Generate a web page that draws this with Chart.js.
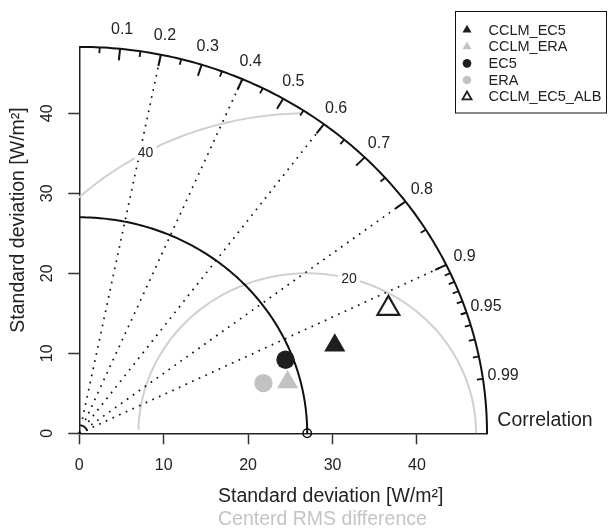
<!DOCTYPE html>
<html><head><meta charset="utf-8">
<script src="https://cdn.jsdelivr.net/npm/chart.js@4/dist/chart.umd.min.js"></script>
<style>html,body{margin:0;padding:0;background:#fff;} canvas{display:block}</style>
</head><body>
<canvas id="c" width="609" height="531"></canvas>
<script>
// ---- data ----
const models = ['CCLM_EC5', 'CCLM_ERA', 'EC5', 'ERA', 'CCLM_EC5_ALB'];
const stdDev = [32.2, 25.5, 26.1, 22.7, 39.8];
const correlation = [0.940, 0.968, 0.936, 0.961, 0.920];
const refStdDev = 27.0;
const maxStdDev = 48.3;
const xTicks = [0, 10, 20, 30, 40];
const yTicks = [0, 10, 20, 30, 40];
const corrLabelValues = [0.1, 0.2, 0.3, 0.4, 0.5, 0.6, 0.7, 0.8, 0.9, 0.95, 0.99];
const corrLabels = ['0.1', '0.2', '0.3', '0.4', '0.5', '0.6', '0.7', '0.8', '0.9', '0.95', '0.99'];
const corrMajor = [0.1, 0.2, 0.3, 0.4, 0.5, 0.6, 0.7, 0.8, 0.9];
const corrMedium = [0.05, 0.15, 0.25, 0.35, 0.45, 0.55, 0.65, 0.75, 0.85, 0.95];
const corrMinor = [0.91, 0.92, 0.93, 0.94, 0.95, 0.96, 0.97, 0.98, 0.99];
const corrLines = [0.2, 0.4, 0.6, 0.8, 0.9];
const rmsLevels = [20, 40];
const rmsLabelIndex = [45, 70];

// ---- styles ----
const DARK = '#1e1e1e';
const GREY = '#c2c2c2';
const ARC_GREY = '#d0d0d0';
const TXT = '#222222';
const FONT = '"Liberation Sans", Arial, Helvetica, sans-serif';
const markerStyle = [
  {style: 'triangle', r: 12.2, bg: DARK, bc: DARK, bw: 0},
  {style: 'triangle', r: 12.2, bg: GREY, bc: GREY, bw: 0},
  {style: 'circle', r: 9.2, bg: DARK, bc: DARK, bw: 0},
  {style: 'circle', r: 9.2, bg: GREY, bc: GREY, bw: 0},
  {style: 'triangle', r: 12.6, bg: 'rgba(255,255,255,0)', bc: DARK, bw: 2.2}
];

const datasets = models.map((m, i) => {
  const c = correlation[i], s = stdDev[i];
  return {
    label: m,
    data: [{x: s * c, y: s * Math.sqrt(1 - c * c)}],
    pointStyle: markerStyle[i].style,
    pointRadius: markerStyle[i].r,
    pointHoverRadius: markerStyle[i].r,
    backgroundColor: markerStyle[i].bg,
    borderColor: markerStyle[i].bc,
    pointBorderWidth: markerStyle[i].bw,
    borderWidth: markerStyle[i].bw,
    showLine: false
  };
});

function P(chart, x, y) { return [chart.scales.x.getPixelForValue(x), chart.scales.y.getPixelForValue(y)]; }
function polyline(ctx, pts) { ctx.beginPath(); pts.forEach((p, k) => k ? ctx.lineTo(p[0], p[1]) : ctx.moveTo(p[0], p[1])); ctx.stroke(); }

const taylorPlugin = {
  id: 'taylor',
  beforeDatasetsDraw(chart) {
    const ctx = chart.ctx, a = chart.chartArea;
    ctx.save();
    ctx.beginPath(); ctx.rect(a.left - 1, a.top - 20, a.right - a.left + 20, a.bottom - a.top + 20); ctx.clip();
    // RMS difference arcs
    ctx.strokeStyle = ARC_GREY; ctx.lineWidth = 2;
    rmsLevels.forEach(g => {
      let seg = [];
      for (let k = 0; k <= 104; k++) {
        const t = k * 0.03;
        const x = refStdDev + g * Math.cos(t), y = g * Math.sin(t);
        if (x * x + y * y <= maxStdDev * maxStdDev && x >= -1) seg.push(P(chart, x, y));
        else { if (seg.length > 1) polyline(ctx, seg); seg = []; }
      }
      if (seg.length > 1) polyline(ctx, seg);
    });
    ctx.restore();
    ctx.save();
    // correlation dotted lines
    ctx.strokeStyle = '#111'; ctx.lineWidth = 1.7; ctx.setLineDash([1.7, 5.6]); ctx.lineCap = 'butt';
    corrLines.forEach(c => {
      const p0 = P(chart, 0, 0), p1 = P(chart, maxStdDev * c, maxStdDev * Math.sqrt(1 - c * c));
      polyline(ctx, [p0, p1]);
    });
    ctx.setLineDash([]);
    // RMS labels with white background
    ctx.font = '14px ' + FONT; ctx.textAlign = 'center'; ctx.textBaseline = 'middle';
    rmsLevels.forEach((g, i) => {
      const t = (rmsLabelIndex[i] - 1) * 0.03;
      const p = P(chart, refStdDev + g * Math.cos(t), g * Math.sin(t));
      const w = ctx.measureText(String(g)).width;
      ctx.fillStyle = '#fff'; ctx.fillRect(p[0] - w / 2 - 3, p[1] - 8, w + 6, 16);
      ctx.fillStyle = TXT; ctx.fillText(String(g), p[0], p[1] + 0.5);
    });
    // outer arc
    ctx.strokeStyle = '#111'; ctx.lineWidth = 2;
    const outer = [];
    for (let k = 0; k <= 157; k++) { const t = k * 0.01; outer.push(P(chart, maxStdDev * Math.cos(t), maxStdDev * Math.sin(t))); }
    polyline(ctx, outer);
    // reference sd arc
    const ref = [];
    for (let k = 0; k <= 157; k++) { const t = k * 0.01; ref.push(P(chart, refStdDev * Math.cos(t), refStdDev * Math.sin(t))); }
    polyline(ctx, ref);
    // small arc at origin
    ctx.lineWidth = 1.5;
    const sm = [];
    for (let k = 0; k <= 12; k++) { const t = 0.3 + k * 0.09; sm.push(P(chart, 1.0 * Math.cos(t), 1.0 * Math.sin(t))); }
    polyline(ctx, sm);
    // correlation ticks
    const tick = (c, f, lw) => {
      const s = Math.sqrt(1 - c * c);
      ctx.lineWidth = lw;
      polyline(ctx, [P(chart, maxStdDev * c, maxStdDev * s), P(chart, f * maxStdDev * c, f * maxStdDev * s)]);
    };
    corrMajor.forEach(c => tick(c, 0.97, 2));
    corrMedium.forEach(c => tick(c, 0.985, 1.8));
    corrMinor.forEach(c => tick(c, 0.985, 1.8));
    // reference point
    const rp = P(chart, refStdDev, 0);
    ctx.lineWidth = 1.5; ctx.beginPath(); ctx.arc(rp[0], rp[1], 4.2, 0, Math.PI * 2); ctx.stroke();
    ctx.restore();
  },
  afterDraw(chart) {
    const ctx = chart.ctx;
    ctx.save();
    ctx.fillStyle = TXT;
    // correlation labels
    ctx.font = '16px ' + FONT; ctx.textAlign = 'center'; ctx.textBaseline = 'middle';
    corrLabelValues.forEach((c, i) => {
      const p = P(chart, 1.05 * maxStdDev * c, 1.05 * maxStdDev * Math.sqrt(1 - c * c));
      ctx.fillText(corrLabels[i], p[0], p[1]);
    });
    ctx.font = '19.5px ' + FONT;
    ctx.fillText('Correlation', 545, 421);
    // axis titles
    ctx.textAlign = 'left';
    ctx.fillText('Standard deviation [W/m\u00B2]', 218, 497);
    ctx.fillStyle = '#c4c4c4';
    ctx.fillText('Centerd RMS difference', 218, 519.5);
    ctx.fillStyle = TXT;
    ctx.save(); ctx.translate(19, 220); ctx.rotate(-Math.PI / 2); ctx.textAlign = 'center';
    ctx.fillText('Standard deviation [W/m\u00B2]', 0, 0); ctx.restore();
    // legend
    ctx.strokeStyle = '#111'; ctx.lineWidth = 1;
    ctx.strokeRect(455.5, 11.5, 151, 101.5);
    ctx.font = '14.5px ' + FONT; ctx.textAlign = 'left'; ctx.textBaseline = 'middle';
    models.forEach((m, i) => {
      const y = 30 + i * 16.67, x = 467;
      const st = markerStyle[i];
      ctx.beginPath();
      if (st.style === 'circle') { ctx.arc(x, y, 4.3, 0, Math.PI * 2); }
      else { const r = 5.2; ctx.moveTo(x, y - r); ctx.lineTo(x + r * 0.866, y + r / 2); ctx.lineTo(x - r * 0.866, y + r / 2); ctx.closePath(); }
      if (st.bw > 0) { ctx.lineWidth = 1.8; ctx.strokeStyle = st.bc; ctx.stroke(); }
      else { ctx.fillStyle = st.bg; ctx.fill(); }
      ctx.fillStyle = TXT;
      ctx.fillText(m, 488.5, y + 0.5);
    });
    ctx.restore();
  }
};

new Chart(document.getElementById('c'), {
  type: 'scatter',
  data: {datasets},
  options: {
    responsive: false,
    devicePixelRatio: 1,
    animation: false,
    layout: {padding: {left: 0, right: 122, top: 46.9, bottom: 0}},
    plugins: {legend: {display: false}, tooltip: {enabled: false}},
    scales: {
      x: {
        type: 'linear', position: 'bottom', min: 0, max: maxStdDev,
        afterBuildTicks: s => { s.ticks = xTicks.map(v => ({value: v})); },
        afterFit: s => { s.height = 97.7; },
        ticks: {font: {family: FONT, size: 16}, color: TXT, padding: 12, callback: v => String(v), maxRotation: 0},
        grid: {display: true, drawOnChartArea: false, drawTicks: true, tickLength: 11, tickColor: '#333', tickWidth: 1.5},
        border: {display: true, color: '#222', width: 1.5}
      },
      y: {
        type: 'linear', position: 'left', min: 0, max: maxStdDev,
        afterBuildTicks: s => { s.ticks = yTicks.map(v => ({value: v})); },
        afterFit: s => { s.width = 79.3; },
        ticks: {font: {family: FONT, size: 16}, color: TXT, padding: 11.4, minRotation: 90, maxRotation: 90, crossAlign: 'center', callback: v => String(v)},
        grid: {display: true, drawOnChartArea: false, drawTicks: true, tickLength: 11, tickColor: '#333', tickWidth: 1.5},
        border: {display: true, color: '#222', width: 1.5}
      }
    }
  },
  plugins: [taylorPlugin]
});
</script>
</body></html>
